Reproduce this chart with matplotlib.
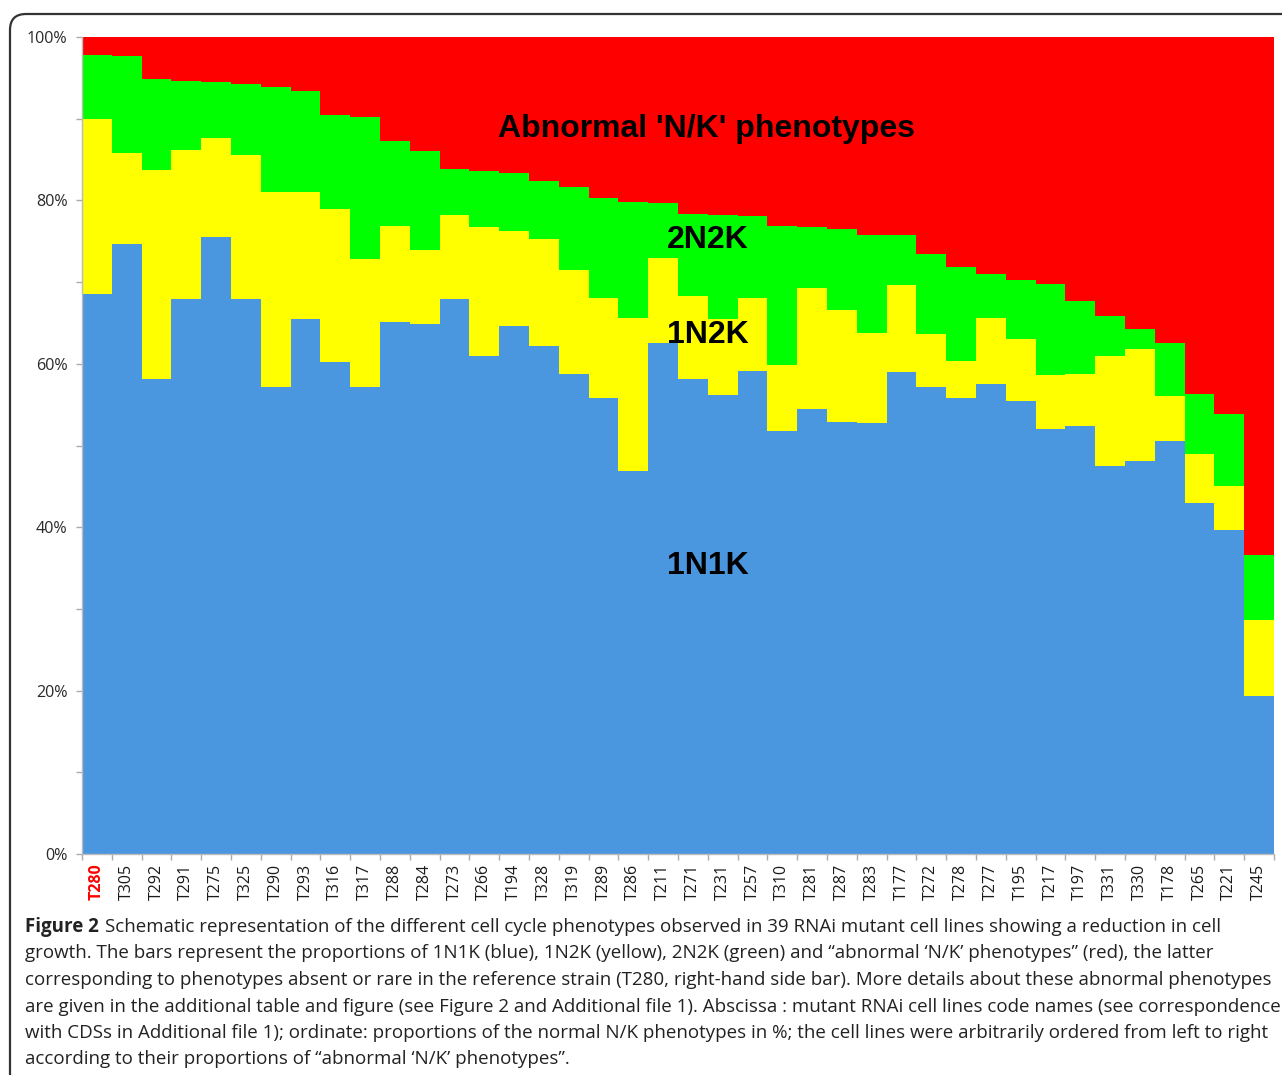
import matplotlib.pyplot as plt
from matplotlib.patches import FancyBboxPatch
from matplotlib.ticker import FixedLocator, PercentFormatter

# --- data (percent of cells per phenotype) ---
lines = ["T280", "T305", "T292", "T291", "T275", "T325", "T290", "T293", "T316", "T317",
         "T288", "T284", "T273", "T266", "T194", "T328", "T319", "T289", "T286", "T211",
         "T271", "T231", "T257", "T310", "T281", "T287", "T283", "T177", "T272", "T278",
         "T277", "T195", "T217", "T197", "T331", "T330", "T178", "T265", "T221", "T245"]
n1k1 = [68.5, 74.7, 58.1, 67.9, 75.5, 67.9, 57.2, 65.5, 60.2, 57.2,
        65.1, 64.9, 67.9, 60.9, 64.6, 62.2, 58.8, 55.8, 46.9, 62.5,
        58.1, 56.2, 59.1, 51.8, 54.5, 52.9, 52.7, 59.0, 57.1, 55.8,
        57.5, 55.5, 52.0, 52.4, 47.5, 48.1, 50.6, 43.0, 39.6, 19.3]
n1k2 = [21.5, 11.1, 25.6, 18.3, 12.1, 17.7, 23.8, 15.5, 18.8, 15.6,
        11.8, 9.0, 10.3, 15.8, 11.7, 13.1, 12.7, 12.2, 18.7, 10.5,
        10.2, 9.3, 9.0, 8.0, 14.8, 13.7, 11.1, 10.6, 6.5, 4.5,
        8.1, 7.5, 6.6, 6.4, 13.4, 13.7, 5.4, 6.0, 5.4, 9.4]
n2k2 = [7.8, 11.9, 11.2, 8.4, 6.9, 8.7, 12.9, 12.4, 11.5, 17.4,
        10.4, 12.1, 5.6, 6.9, 7.0, 7.1, 10.1, 12.3, 14.2, 6.7,
        10.0, 12.7, 10.0, 17.1, 7.5, 9.9, 12.0, 6.2, 9.8, 11.5,
        5.4, 7.3, 11.2, 8.9, 5.0, 2.4, 6.5, 7.3, 8.9, 7.9]
abnormal = [2.2, 2.3, 5.1, 5.4, 5.5, 5.7, 6.1, 6.6, 9.5, 9.8,
            12.7, 14.0, 16.2, 16.4, 16.7, 17.6, 18.4, 19.7, 20.2, 20.3,
            21.7, 21.8, 21.9, 23.1, 23.2, 23.5, 24.2, 24.2, 26.6, 28.2,
            29.0, 29.7, 30.2, 32.3, 34.1, 35.8, 37.5, 43.7, 46.1, 63.4]

W, H = 1282, 1075
fig = plt.figure(figsize=(W / 100, H / 100), dpi=100)

# rounded panel frame
frame = FancyBboxPatch((0.10, -0.5), 13.5, (H - 14) / 100 + 0.5,
                       boxstyle="round,pad=0,rounding_size=0.16",
                       transform=fig.dpi_scale_trans, fill=False,
                       edgecolor="#333333", linewidth=1.6)
fig.patches.append(frame)

ax = fig.add_axes([82 / W, 1 - 854 / H, (1274 - 82) / W, (854 - 37) / H])

x = range(len(lines))
b1 = n1k1
b2 = [a + b for a, b in zip(b1, n1k2)]
b3 = [a + b for a, b in zip(b2, n2k2)]
ax.bar(x, n1k1, width=1.0, color="#4A96DF", linewidth=0)
ax.bar(x, n1k2, bottom=b1, width=1.0, color="#FFFF00", linewidth=0)
ax.bar(x, n2k2, bottom=b2, width=1.0, color="#00FF00", linewidth=0)
ax.bar(x, abnormal, bottom=b3, width=1.0, color="#FF0000", linewidth=0)

ax.set_xlim(-0.5, len(lines) - 0.5)
ax.set_ylim(0, 100)

for s in ["top", "right"]:
    ax.spines[s].set_visible(False)
for s in ["left", "bottom"]:
    ax.spines[s].set_color("#BBBBBB")
    ax.spines[s].set_linewidth(1.0)

ax.yaxis.set_major_locator(FixedLocator([0, 20, 40, 60, 80, 100]))
ax.yaxis.set_minor_locator(FixedLocator([10, 30, 50, 70, 90]))
ax.yaxis.set_major_formatter(PercentFormatter(decimals=0))
ax.tick_params(axis="y", which="both", length=4.5, color="#AAAAAA", width=1.0,
               pad=6, labelsize=11.6, labelcolor="#2a2a2a")
for t in ax.get_yticklabels():
    t.set_fontfamily("Open Sans")

ax.set_xticks(list(x))
ax.set_xticks([i - 0.5 for i in range(len(lines) + 1)], minor=True)
ax.set_xticklabels(lines, rotation=90, fontsize=11.5, fontfamily="Open Sans", color="#1a1a1a")
ax.tick_params(axis="x", which="major", length=0, pad=7)
ax.tick_params(axis="x", which="minor", length=4, color="#AAAAAA", width=1.0)
ref = ax.get_xticklabels()[0]
ref.set_color("#FF0000")
ref.set_fontweight("bold")

# in-chart labels
lab = dict(fontsize=23, fontweight="bold", fontfamily="Liberation Sans",
           ha="center", va="baseline", color="black")
ax.text(20.47, 87.8, "Abnormal 'N/K' phenotypes", **lab)
ax.text(20.5, 74.2, "2N2K", **lab)
ax.text(20.5, 62.5, "1N2K", **lab)
ax.text(20.5, 34.3, "1N1K", **lab)

# caption
cap = [
    "Schematic representation of the different cell cycle phenotypes observed in 39 RNAi mutant cell lines showing a reduction in cell",
    "growth. The bars represent the proportions of 1N1K (blue), 1N2K (yellow), 2N2K (green) and \u201cabnormal \u2018N/K\u2019 phenotypes\u201d (red), the latter",
    "corresponding to phenotypes absent or rare in the reference strain (T280, right-hand side bar). More details about these abnormal phenotypes",
    "are given in the additional table and figure (see Figure 2 and Additional file 1). Abscissa : mutant RNAi cell lines code names (see correspondence",
    "with CDSs in Additional file 1); ordinate: proportions of the normal N/K phenotypes in %; the cell lines were arbitrarily ordered from left to right",
    "according to their proportions of \u201cabnormal \u2018N/K\u2019 phenotypes\u201d.",
]
cap_kw = dict(fontsize=13.5, fontfamily="Open Sans", color="#222222", va="baseline")
x0 = 25 / W
base = 932
fig_lbl = fig.text(x0, 1 - base / H, "Figure 2", fontweight="bold", **cap_kw)
fig.canvas.draw()
bb = fig_lbl.get_window_extent()
fig.text((bb.x1 + 6) / W, 1 - base / H, cap[0], **cap_kw)
for i, line in enumerate(cap[1:], start=1):
    fig.text(x0, 1 - (base + i * 26.5) / H, line, **cap_kw)

plt.savefig("out.png", dpi=100)
